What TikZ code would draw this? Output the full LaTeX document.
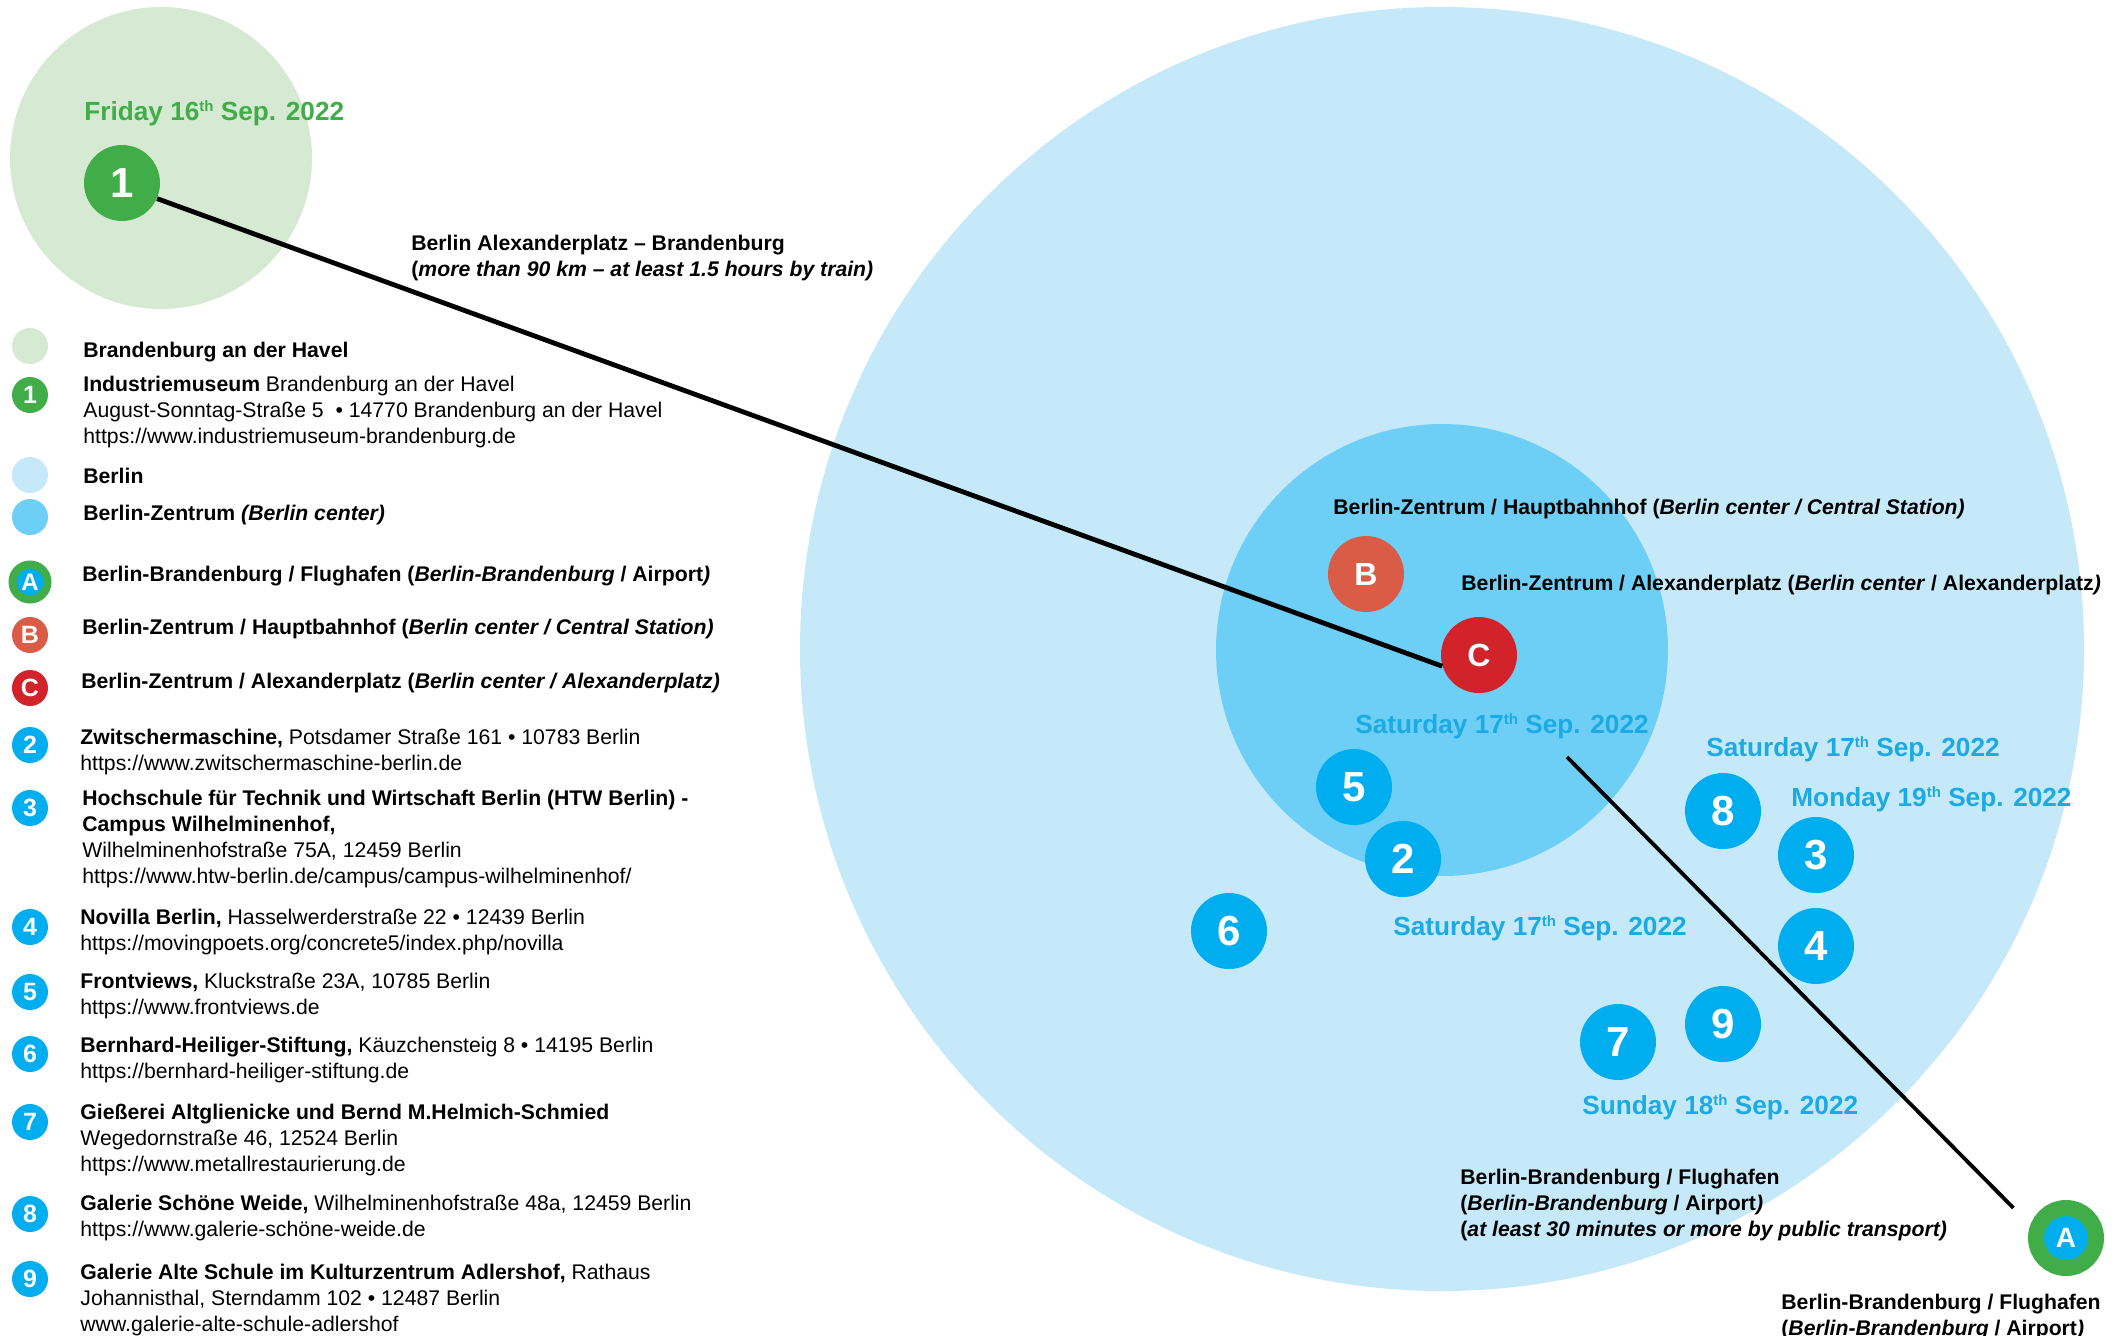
\documentclass[tikz,border=0pt]{standalone}
\usepackage{fontspec}
\setmainfont{Liberation Sans}
\definecolor{havel}{HTML}{D6E9D2}
\definecolor{leaf}{HTML}{40AD49}
\definecolor{citypale}{HTML}{C6E9F9}
\definecolor{citymid}{HTML}{6DCFF6}
\definecolor{dotblue}{HTML}{00AEEF}
\definecolor{datablue}{HTML}{1CAAE4}
\definecolor{brick}{HTML}{DA5C46}
\definecolor{signal}{HTML}{D2232B}
\newcommand{\dayth}[1]{#1\raisebox{4.3pt}{\fontsize{7.5}{8}\selectfont th}}

\begin{document}
\begin{tikzpicture}[x=0.5pt, y=-0.5pt,
  txt/.style={font=\fontsize{10.6}{12.9}\selectfont, inner sep=0, anchor=north west, align=left},
  lbl/.style={txt, font=\fontsize{10.6}{12.9}\selectfont\bfseries},
  date/.style={font=\fontsize{13.1}{16}\selectfont\bfseries, inner sep=0, anchor=west, text=datablue},
  spot/.style={circle, minimum size=38pt, inner sep=0, text=white, font=\fontsize{21}{24}\selectfont\bfseries},
  letter/.style={font=\fontsize{16}{18}\selectfont\bfseries},
  key/.style={circle, minimum size=18pt, inner sep=0, text=white, font=\fontsize{12.5}{14}\selectfont\bfseries}]
\fill [white] (0,0) rectangle (2127,1335);
\useasboundingbox (0,0) rectangle (2127,1335);

% areas
\fill [havel] (161,158) circle [radius=151];
\fill [citypale] (1442,649) circle [radius=642];
\fill [citymid] (1442,650) circle [radius=226];

% places on the map
\node [spot, fill=leaf] (n1) at (122,183) {1};
\node [spot, letter, fill=brick] (nB) at (1366,574) {B};
\node [spot, letter, fill=signal] (nC) at (1479,655) {C};
\foreach \n/\x/\y in {5/1354/787, 2/1403/859, 6/1229/931, 8/1723/811, 3/1816/855, 4/1816/946, 9/1723/1024, 7/1618/1042}
\node [spot, fill=dotblue] (n\n) at (\x,\y) {\n};
\node [circle, minimum size=30pt, inner sep=0, fill=dotblue, draw=leaf, line width=8pt, text=white, font=\fontsize{14}{16}\selectfont\bfseries] (nA) at (2066,1238) {A};

% journeys
\draw [line width=2.4pt] (n1.-24) -- (nC.197);
\coordinate (tripTop) at (1567,757);
\draw [line width=1.9pt, shorten >=12pt] (tripTop) -- (nA.160);

% dates
\node [date, text=leaf] (dFri) at (84,113) {Friday \dayth{16} Sep. 2022};
\node [date] (dSatC) at (1355,726) {Saturday \dayth{17} Sep. 2022};
\node [date] (dSatE) at (1706,749) {Saturday \dayth{17} Sep. 2022};
\node [date] (dMon) at (1791,799) {Monday \dayth{19} Sep. 2022};
\node [date] (dSatS) at (1393,928) {Saturday \dayth{17} Sep. 2022};
\node [date] (dSun) at (1582,1107) {Sunday \dayth{18} Sep. 2022};

% map labels
\node [lbl] (lTrain) at (411,235) {Berlin Alexanderplatz – Brandenburg\\(\textit{more than 90 km – at least 1.5 hours by train)}};
\node [lbl] (lHbf) at (1333,499) {Berlin-Zentrum / Hauptbahnhof (\textit{Berlin center / Central Station)}};
\node [lbl] (lAlex) at (1461,575) {Berlin-Zentrum / Alexanderplatz (\textit{Berlin center} / Alexanderplatz\textit{)}};
\node [lbl] (lAir) at (1460,1169) {Berlin-Brandenburg / Flughafen\\(\textit{Berlin-Brandenburg} / Airport\textit{)}\\(\textit{at least 30 minutes or more by public transport)}};
\node [lbl] (lAirB) at (1781,1294) {Berlin-Brandenburg / Flughafen\\(\textit{Berlin-Brandenburg} / Airport\textit{)}};

% legend
\node [key, fill=havel] (kHavel) at (30,346) {};
\node [key, fill=leaf] (k1) at (30,395) {1};
\node [key, fill=citypale] (kBerlin) at (30,475) {};
\node [key, fill=citymid] (kMitte) at (30,517) {};
\node [key, minimum size=17.5pt, fill=dotblue, draw=leaf, line width=4pt, font=\fontsize{12}{14}\selectfont\bfseries] (kA) at (30,582) {A};
\node [key, fill=brick] (kB) at (30,635) {B};
\node [key, fill=signal] (kC) at (30,688) {C};
\foreach \n/\y in {2/745, 3/808, 4/927, 5/992, 6/1054, 7/1122, 8/1214, 9/1279}
\node [key, fill=dotblue] (k\n) at (30,\y) {\n};

\node [lbl] (tHavel) at (83,342) {Brandenburg an der Havel};
\node [txt] (t1) at (83,376) {\textbf{Industriemuseum} Brandenburg an der Havel\\August-Sonntag-Straße 5~ • 14770 Brandenburg an der Havel\\https://www.industriemuseum-brandenburg.de};
\node [lbl] (tBerlin) at (83,468) {Berlin};
\node [lbl] (tMitte) at (83,505) {Berlin-Zentrum \textit{(Berlin center)}};
\node [lbl] (tA) at (82,566) {Berlin-Brandenburg / Flughafen (\textit{Berlin-Brandenburg} / Airport\textit{)}};
\node [lbl] (tB) at (82,619) {Berlin-Zentrum / Hauptbahnhof (\textit{Berlin center / Central Station)}};
\node [lbl] (tC) at (81,673) {Berlin-Zentrum / Alexanderplatz (\textit{Berlin center / Alexanderplatz)}};
\node [txt] (t2) at (80,729) {\textbf{Zwitschermaschine,} Potsdamer Straße 161 • 10783 Berlin\\https://www.zwitschermaschine-berlin.de};
\node [txt] (t3) at (82,790) {\textbf{Hochschule für Technik und Wirtschaft Berlin (HTW Berlin) -}\\\textbf{Campus Wilhelminenhof,}\\Wilhelminenhofstraße 75A, 12459 Berlin\\https://www.htw-berlin.de/campus/campus-wilhelminenhof/};
\node [txt] (t4) at (80,909) {\textbf{Novilla Berlin,} Hasselwerderstraße 22 • 12439 Berlin\\https://movingpoets.org/concrete5/index.php/novilla};
\node [txt] (t5) at (80,973) {\textbf{Frontviews,} Kluckstraße 23A, 10785 Berlin\\https://www.frontviews.de};
\node [txt] (t6) at (80,1037) {\textbf{Bernhard-Heiliger-Stiftung,} Käuzchensteig 8 • 14195 Berlin\\https://bernhard-heiliger-stiftung.de};
\node [txt] (t7) at (80,1104) {\textbf{Gießerei Altglienicke und Bernd M.Helmich-Schmied}\\Wegedornstraße 46, 12524 Berlin\\https://www.metallrestaurierung.de};
\node [txt] (t8) at (80,1195) {\textbf{Galerie Schöne Weide,} Wilhelminenhofstraße 48a, 12459 Berlin\\https://www.galerie-schöne-weide.de};
\node [txt] (t9) at (80,1264) {\textbf{Galerie Alte Schule im Kulturzentrum Adlershof,} Rathaus\\Johannisthal, Sterndamm 102 • 12487 Berlin\\www.galerie-alte-schule-adlershof};
\end{tikzpicture}
\end{document}
